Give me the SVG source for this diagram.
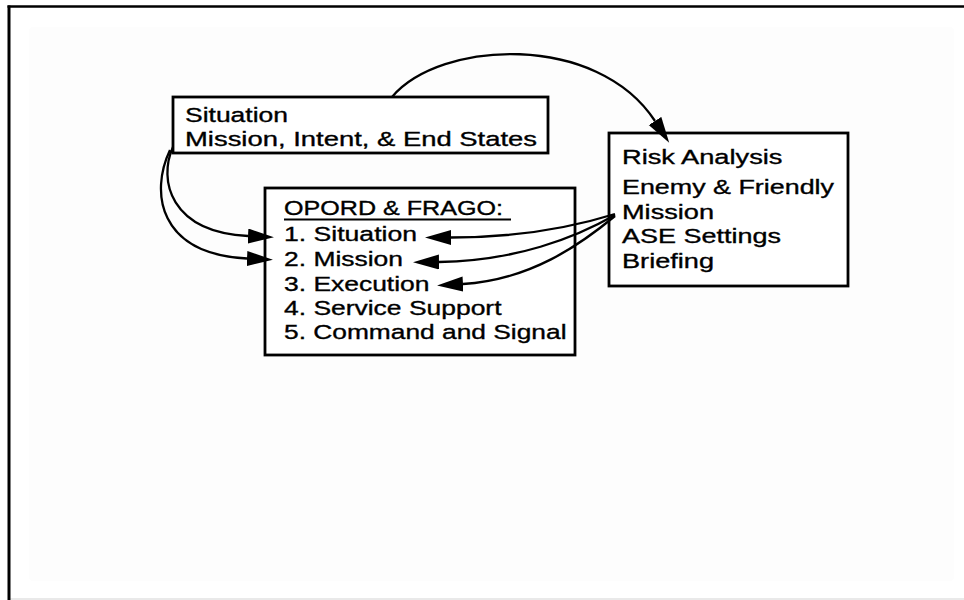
<svg xmlns="http://www.w3.org/2000/svg" width="964" height="600" viewBox="0 0 964 600">
  <style>
    .box { fill: #ffffff; stroke: #000000; stroke-width: 2.8; }
    .t { font-family: "Liberation Sans", Arial, Helvetica, sans-serif; font-size: 20.5px; fill: #000000; stroke: #000000; stroke-width: 0.35; }
    .conn { fill: none; stroke: #000000; stroke-width: 2.3; }
  </style>
  <defs>
    <marker id="ah" markerUnits="userSpaceOnUse" markerWidth="28" markerHeight="16" refX="0" refY="7.5" orient="auto">
      <path d="M0,0 L26,7.5 L0,15 Z" fill="#000000"/>
    </marker>
  </defs>

  <rect x="0" y="0" width="964" height="600" fill="#ffffff"/>
  <rect x="29" y="27" width="925" height="554" rx="4" fill="#fdfdfd"/>
  <line x1="9" y1="599" x2="964" y2="599" stroke="#e2e2e2" stroke-width="1.5"/>
  <line x1="7.5" y1="6.5" x2="964" y2="6.5" stroke="#000000" stroke-width="2.5"/>
  <line x1="9" y1="5.5" x2="9" y2="600" stroke="#000000" stroke-width="3"/>

  <g id="situation-box">
    <rect class="box" x="173" y="97" width="375" height="56"/>
    <text class="t" x="185" y="122" textLength="103" lengthAdjust="spacingAndGlyphs">Situation</text>
    <text class="t" x="185" y="146" textLength="352" lengthAdjust="spacingAndGlyphs">Mission, Intent, &amp; End States</text>
  </g>

  <g id="opord-box">
    <rect class="box" x="265" y="188" width="310" height="167"/>
    <text class="t" x="284" y="215" textLength="219" lengthAdjust="spacingAndGlyphs">OPORD &amp; FRAGO:</text>
    <line x1="284" y1="219.5" x2="511" y2="219.5" stroke="#000000" stroke-width="1.8"/>
    <text class="t" x="284" y="241" textLength="133" lengthAdjust="spacingAndGlyphs">1. Situation</text>
    <text class="t" x="284" y="266" textLength="119" lengthAdjust="spacingAndGlyphs">2. Mission</text>
    <text class="t" x="284" y="290.5" textLength="145.5" lengthAdjust="spacingAndGlyphs">3. Execution</text>
    <text class="t" x="284" y="315" textLength="217.5" lengthAdjust="spacingAndGlyphs">4. Service Support</text>
    <text class="t" x="284" y="339" textLength="282.5" lengthAdjust="spacingAndGlyphs">5. Command and Signal</text>
  </g>

  <g id="risk-box">
    <rect class="box" x="609" y="133" width="239" height="153"/>
    <text class="t" x="622" y="164" textLength="160.5" lengthAdjust="spacingAndGlyphs">Risk Analysis</text>
    <text class="t" x="622" y="194" textLength="212" lengthAdjust="spacingAndGlyphs">Enemy &amp; Friendly</text>
    <text class="t" x="622" y="218.5" textLength="92" lengthAdjust="spacingAndGlyphs">Mission</text>
    <text class="t" x="622" y="243" textLength="159" lengthAdjust="spacingAndGlyphs">ASE Settings</text>
    <text class="t" x="622" y="267.5" textLength="92" lengthAdjust="spacingAndGlyphs">Briefing</text>
  </g>

  <g id="connectors">
    <path class="conn" d="M392,97 C440,40 597,32 655,121" marker-end="url(#ah)"/>
    <path class="conn" d="M173,147 C158,180 170,232 248,236" marker-end="url(#ah)"/>
    <path class="conn" d="M170,150 C150,192 158,254 247,258.5" marker-end="url(#ah)"/>
    <path class="conn" d="M615,214 C570,228 515,237.5 451,237.5" marker-end="url(#ah)"/>
    <path class="conn" d="M615,215 C575,238 515,261 439,262" marker-end="url(#ah)"/>
    <path class="conn" d="M615,216 C580,245 530,280 463,284" marker-end="url(#ah)"/>
  </g>
</svg>
